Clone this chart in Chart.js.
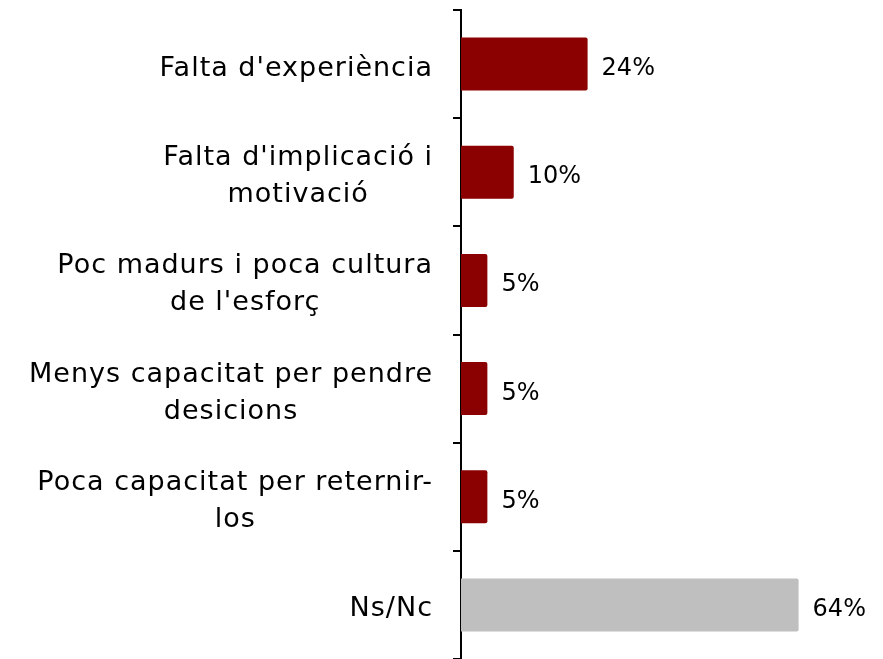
<!DOCTYPE html>
<html>
<head>
<meta charset="utf-8">
<script src="https://cdn.jsdelivr.net/npm/chart.js@4.4.1/dist/chart.umd.min.js"></script>
<style>
  html, body { margin: 0; padding: 0; background: #fff; }
  #wrap { width: 883px; height: 659px; }
</style>
</head>
<body>
<div id="wrap"><canvas id="chart"></canvas></div>
<script>
// categories (multi-line labels as arrays)
const categories = [
    "Falta d'experiència",
    ["Falta d'implicació i", "motivació"],
    ["Poc madurs i poca cultura", "de l'esforç"],
    ["Menys capacitat per pendre", "desicions"],
    ["Poca capacitat per reternir-", "los"],
    "Ns/Nc"
];
const values = [24, 10, 5, 5, 5, 64];
const barColors = ['#8B0000', '#8B0000', '#8B0000', '#8B0000', '#8B0000', '#BFBFBF'];

const FONT = '"DejaVu Sans", sans-serif';
const LABEL_FONT = '400 27px ' + FONT;

// category labels: block right-aligned, lines centred inside the block
const categoryLabels = {
    id: 'categoryLabels',
    afterDraw(chart) {
        const ctx = chart.ctx;
        const yScale = chart.scales.y;
        const right = yScale.right - 28;
        const lineH = 37;
        ctx.save();
        ctx.font = LABEL_FONT;
        ctx.letterSpacing = '1px';
        ctx.fillStyle = '#000';
        ctx.textAlign = 'center';
        ctx.textBaseline = 'alphabetic';
        categories.forEach((lab, i) => {
            const lines = Array.isArray(lab) ? lab : [lab];
            const w = Math.max(...lines.map(l => ctx.measureText(l).width));
            const cx = right - w / 2;
            const y0 = yScale.getPixelForTick(i) + 11.5 - (lines.length - 1) * lineH / 2;
            lines.forEach((l, j) => ctx.fillText(l, cx, y0 + j * lineH));
        });
        ctx.restore();
    }
};

// draws "NN%" to the right of each bar
const valueLabels = {
    id: 'valueLabels',
    afterDatasetsDraw(chart) {
        const ctx = chart.ctx;
        const meta = chart.getDatasetMeta(0);
        ctx.save();
        ctx.font = '400 24px ' + FONT;
        ctx.fillStyle = '#000';
        ctx.textAlign = 'left';
        ctx.textBaseline = 'alphabetic';
        meta.data.forEach((bar, i) => {
            ctx.fillText(values[i] + '%', bar.x + 14, bar.y + 11);
        });
        ctx.restore();
    }
};

new Chart(document.getElementById('chart'), {
    type: 'bar',
    data: {
        labels: categories,
        datasets: [{
            data: values,
            backgroundColor: barColors,
            borderRadius: 2,
            borderSkipped: 'left',
            categoryPercentage: 1,
            barPercentage: 0.49
        }]
    },
    options: {
        indexAxis: 'y',
        responsive: true,
        maintainAspectRatio: false,
        animation: false,
        layout: { padding: { top: 10, bottom: 0, left: 0, right: 0 } },
        plugins: {
            legend: { display: false },
            tooltip: { enabled: false }
        },
        scales: {
            x: {
                display: false,
                min: 0,
                max: 80
            },
            y: {
                afterFit(scale) {
                    scale.width = 461;
                    scale.paddingTop = 0;
                    scale.paddingBottom = 0;
                },
                border: { display: true, color: '#000', width: 2 },
                grid: {
                    offset: true,
                    drawOnChartArea: false,
                    drawTicks: true,
                    tickLength: 8,
                    color: '#000',
                    lineWidth: 2
                },
                ticks: { display: false }
            }
        }
    },
    plugins: [valueLabels, categoryLabels]
});
</script>
</body>
</html>
